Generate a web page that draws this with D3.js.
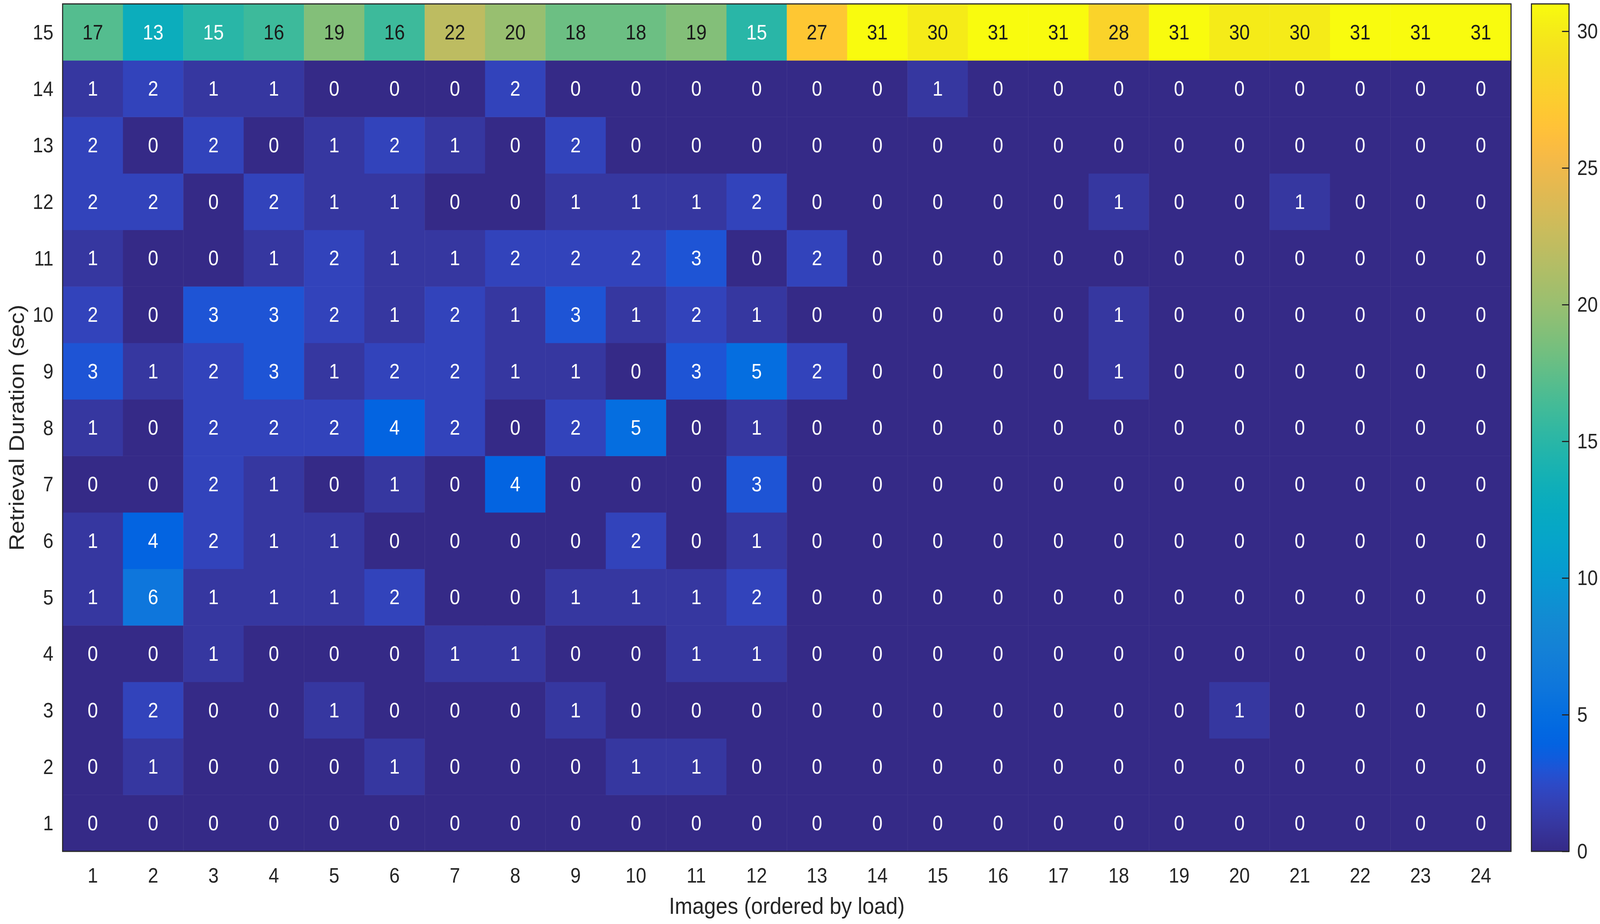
<!DOCTYPE html>
<html>
<head>
<meta charset="utf-8">
<script src="https://cdn.jsdelivr.net/npm/d3@7"></script>
<style>
  html, body { margin: 0; padding: 0; background: #fff; overflow: hidden; }
  #chart { width: 100vw; height: 100vh; }
  svg { display: block; width: 100%; height: 100%; font-family: "Liberation Sans", Arial, Helvetica, sans-serif; }
</style>
</head>
<body>
<div id="chart"></div>
<script>
/* Retrieval duration heatmap: counts per image (x) and duration bucket (y) */

const images = d3.range(1, 25);          // 1..24
const durations = d3.range(1, 16);       // 1..15 (sec)

// one array per duration row, values for images 1..24
const dur15 = [17, 13, 15, 16, 19, 16, 22, 20, 18, 18, 19, 15, 27, 31, 30, 31, 31, 28, 31, 30, 30, 31, 31, 31];
const dur14 = [1, 2, 1, 1, 0, 0, 0, 2, 0, 0, 0, 0, 0, 0, 1, 0, 0, 0, 0, 0, 0, 0, 0, 0];
const dur13 = [2, 0, 2, 0, 1, 2, 1, 0, 2, 0, 0, 0, 0, 0, 0, 0, 0, 0, 0, 0, 0, 0, 0, 0];
const dur12 = [2, 2, 0, 2, 1, 1, 0, 0, 1, 1, 1, 2, 0, 0, 0, 0, 0, 1, 0, 0, 1, 0, 0, 0];
const dur11 = [1, 0, 0, 1, 2, 1, 1, 2, 2, 2, 3, 0, 2, 0, 0, 0, 0, 0, 0, 0, 0, 0, 0, 0];
const dur10 = [2, 0, 3, 3, 2, 1, 2, 1, 3, 1, 2, 1, 0, 0, 0, 0, 0, 1, 0, 0, 0, 0, 0, 0];
const dur9  = [3, 1, 2, 3, 1, 2, 2, 1, 1, 0, 3, 5, 2, 0, 0, 0, 0, 1, 0, 0, 0, 0, 0, 0];
const dur8  = [1, 0, 2, 2, 2, 4, 2, 0, 2, 5, 0, 1, 0, 0, 0, 0, 0, 0, 0, 0, 0, 0, 0, 0];
const dur7  = [0, 0, 2, 1, 0, 1, 0, 4, 0, 0, 0, 3, 0, 0, 0, 0, 0, 0, 0, 0, 0, 0, 0, 0];
const dur6  = [1, 4, 2, 1, 1, 0, 0, 0, 0, 2, 0, 1, 0, 0, 0, 0, 0, 0, 0, 0, 0, 0, 0, 0];
const dur5  = [1, 6, 1, 1, 1, 2, 0, 0, 1, 1, 1, 2, 0, 0, 0, 0, 0, 0, 0, 0, 0, 0, 0, 0];
const dur4  = [0, 0, 1, 0, 0, 0, 1, 1, 0, 0, 1, 1, 0, 0, 0, 0, 0, 0, 0, 0, 0, 0, 0, 0];
const dur3  = [0, 2, 0, 0, 1, 0, 0, 0, 1, 0, 0, 0, 0, 0, 0, 0, 0, 0, 0, 1, 0, 0, 0, 0];
const dur2  = [0, 1, 0, 0, 0, 1, 0, 0, 0, 1, 1, 0, 0, 0, 0, 0, 0, 0, 0, 0, 0, 0, 0, 0];
const dur1  = [0, 0, 0, 0, 0, 0, 0, 0, 0, 0, 0, 0, 0, 0, 0, 0, 0, 0, 0, 0, 0, 0, 0, 0];

const rowsByDuration = [dur1, dur2, dur3, dur4, dur5, dur6, dur7, dur8,
                        dur9, dur10, dur11, dur12, dur13, dur14, dur15];

const colorTicks = [0, 5, 10, 15, 20, 25, 30];
const colorMax = 31;

const xTitle = "Images (ordered by load)";
const yTitle = "Retrieval Duration (sec)";

/* parula colormap (64 entries) */
const PARULA = [
  [0.2081, 0.1663, 0.5292], [0.2116, 0.1898, 0.5777], [0.2123, 0.2138, 0.6270], [0.2081, 0.2386, 0.6771],
  [0.1959, 0.2645, 0.7279], [0.1707, 0.2919, 0.7792], [0.1253, 0.3242, 0.8303], [0.0591, 0.3598, 0.8683],
  [0.0117, 0.3875, 0.8820], [0.0060, 0.4086, 0.8828], [0.0165, 0.4266, 0.8786], [0.0329, 0.4430, 0.8720],
  [0.0498, 0.4586, 0.8641], [0.0629, 0.4737, 0.8554], [0.0723, 0.4887, 0.8467], [0.0779, 0.5040, 0.8384],
  [0.0793, 0.5200, 0.8312], [0.0749, 0.5375, 0.8263], [0.0641, 0.5570, 0.8240], [0.0488, 0.5772, 0.8228],
  [0.0343, 0.5966, 0.8199], [0.0265, 0.6137, 0.8135], [0.0239, 0.6287, 0.8038], [0.0231, 0.6418, 0.7913],
  [0.0228, 0.6535, 0.7768], [0.0267, 0.6642, 0.7607], [0.0384, 0.6743, 0.7436], [0.0590, 0.6838, 0.7254],
  [0.0843, 0.6928, 0.7062], [0.1133, 0.7015, 0.6859], [0.1453, 0.7098, 0.6646], [0.1801, 0.7177, 0.6424],
  [0.2178, 0.7250, 0.6193], [0.2586, 0.7317, 0.5954], [0.3022, 0.7376, 0.5712], [0.3482, 0.7424, 0.5473],
  [0.3953, 0.7459, 0.5244], [0.4420, 0.7481, 0.5033], [0.4871, 0.7491, 0.4840], [0.5300, 0.7491, 0.4661],
  [0.5709, 0.7485, 0.4494], [0.6099, 0.7473, 0.4337], [0.6473, 0.7456, 0.4188], [0.6834, 0.7435, 0.4044],
  [0.7184, 0.7411, 0.3905], [0.7525, 0.7384, 0.3768], [0.7858, 0.7356, 0.3633], [0.8185, 0.7327, 0.3498],
  [0.8507, 0.7299, 0.3360], [0.8824, 0.7274, 0.3217], [0.9139, 0.7258, 0.3063], [0.9450, 0.7261, 0.2886],
  [0.9739, 0.7314, 0.2666], [0.9938, 0.7455, 0.2403], [0.9990, 0.7653, 0.2164], [0.9955, 0.7861, 0.1967],
  [0.9880, 0.8066, 0.1794], [0.9789, 0.8271, 0.1633], [0.9697, 0.8481, 0.1475], [0.9626, 0.8705, 0.1309],
  [0.9589, 0.8949, 0.1132], [0.9598, 0.9218, 0.0948], [0.9661, 0.9514, 0.0755], [0.9763, 0.9831, 0.0538]
].map(c => d3.rgb(c[0] * 255, c[1] * 255, c[2] * 255).formatHex());

const W = 4550, H = 2366;
const plot = { left: 178, right: 4297, top: 10, bottom: 2180 };
const cbar = { left: 4355, right: 4462 };
const INK = "#262626";
const FS = 53;

/* the drawing is laid out in 4550x2366 units and stretched to fill the window */
const svg = d3.select("#chart").append("svg")
  .attr("viewBox", `0 0 ${W} ${H}`)
  .attr("preserveAspectRatio", "none");

svg.append("rect").attr("width", W).attr("height", H).attr("fill", "#fff");

const x = d3.scaleBand().domain(images).range([plot.left, plot.right]);
const y = d3.scaleBand().domain(durations.slice().reverse()).range([plot.top, plot.bottom]);

const color = d3.scaleLinear()
  .domain(PARULA.map((_, i) => i / (PARULA.length - 1) * colorMax))
  .range(PARULA)
  .interpolate(d3.interpolateRgb)
  .clamp(true);

const cells = [];
durations.forEach((d, i) => {
  rowsByDuration[i].forEach((v, j) => cells.push({ dur: d, img: images[j], value: v }));
});

/* cells */
svg.append("g").selectAll("rect").data(cells).enter().append("rect")
  .attr("x", d => x(d.img)).attr("y", d => y(d.dur))
  .attr("width", x.bandwidth() + 0.5).attr("height", y.bandwidth() + 0.5)
  .attr("fill", d => color(d.value));

/* cell labels — dark text on the light (green/yellow) end of the map */
svg.append("g").selectAll("text").data(cells).enter().append("text")
  .attr("x", d => x(d.img) + x.bandwidth() / 2)
  .attr("y", d => y(d.dur) + y.bandwidth() / 2)
  .attr("text-anchor", "middle").attr("dominant-baseline", "central")
  .style("font-size", FS + "px")
  .style("fill", d => d.value >= 16 ? "#1a1a1a" : "#ffffff")
  .text(d => d.value);

/* plot frame */
svg.append("rect")
  .attr("x", plot.left).attr("y", plot.top)
  .attr("width", plot.right - plot.left).attr("height", plot.bottom - plot.top)
  .attr("fill", "none").attr("stroke", INK).attr("stroke-width", 3);

/* axes (heatmap style: labels only, no tick marks) */
const xAxis = svg.append("g").attr("transform", `translate(0,${plot.bottom})`)
  .call(d3.axisBottom(x).tickSize(0).tickPadding(42));
xAxis.select(".domain").remove();
xAxis.selectAll("text").style("font-size", FS + "px").style("fill", INK)
  .attr("font-family", null);

const yAxis = svg.append("g").attr("transform", `translate(${plot.left},0)`)
  .call(d3.axisLeft(y).tickSize(0).tickPadding(26));
yAxis.select(".domain").remove();
yAxis.selectAll("text").style("font-size", FS + "px").style("fill", INK)
  .attr("font-family", null).attr("dy", "0.35em");

svg.append("text")
  .attr("x", (plot.left + plot.right) / 2).attr("y", 2340)
  .attr("text-anchor", "middle")
  .style("font-size", "60px").style("fill", INK)
  .text(xTitle);

svg.append("text")
  .attr("transform", `translate(68,${(plot.top + plot.bottom) / 2}) rotate(-90)`)
  .attr("text-anchor", "middle")
  .style("font-size", "60px").style("fill", INK)
  .text(yTitle);

/* colorbar */
const grad = svg.append("defs").append("linearGradient")
  .attr("id", "parula").attr("x1", 0).attr("y1", 1).attr("x2", 0).attr("y2", 0);
PARULA.forEach((c, i) => {
  grad.append("stop").attr("offset", i / (PARULA.length - 1)).attr("stop-color", c);
});

svg.append("rect")
  .attr("x", cbar.left).attr("y", plot.top)
  .attr("width", cbar.right - cbar.left).attr("height", plot.bottom - plot.top)
  .attr("fill", "url(#parula)").attr("stroke", INK).attr("stroke-width", 3);

const cy = d3.scaleLinear().domain([0, colorMax]).range([plot.bottom, plot.top]);
const cAxis = svg.append("g").attr("transform", `translate(${cbar.right},0)`)
  .call(d3.axisLeft(cy).tickValues(colorTicks).tickSize(20).tickFormat(""));
cAxis.select(".domain").remove();
cAxis.selectAll("line").attr("stroke", INK).attr("stroke-width", 3);

svg.append("g").selectAll("text").data(colorTicks).enter().append("text")
  .attr("x", cbar.right + 23).attr("y", d => cy(d))
  .attr("dominant-baseline", "central")
  .style("font-size", FS + "px").style("fill", INK)
  .text(d => d);
</script>
</body>
</html>
